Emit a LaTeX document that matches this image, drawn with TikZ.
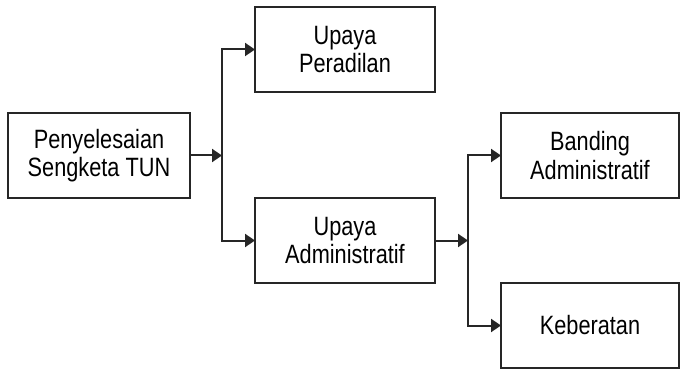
\documentclass[tikz,border=0pt]{standalone}
\usepackage{fontspec}
\setmainfont{Liberation Sans}[FakeStretch=0.82]
\usetikzlibrary{arrows.meta}
\begin{document}
\begin{tikzpicture}[x=1pt,y=1pt,
  box/.style={draw=black!85,line width=1.5pt,fill=white,align=center,
    minimum height=85pt,inner sep=0pt,outer sep=0pt,
    font=\fontsize{26.5}{28.3}\selectfont},
  conn/.style={draw=black!85,line width=2pt},
  arr/.style={conn,-{Triangle[length=10pt,width=13pt]}}]
\useasboundingbox[fill=white] (0,0) rectangle (680,370);
\node[box,minimum width=182pt] (b1) at (99,214.5) {Penyelesaian\\Sengketa TUN};
\node[box,minimum width=180pt] (b2) at (345,320.5) {Upaya\\Peradilan};
\node[box,minimum width=180pt] (b3) at (345,129.5) {Upaya\\Administratif};
\node[box,minimum width=178pt] (b4) at (590,214.5) {Banding\\Administratif};
\node[box,minimum width=178pt] (b5) at (590,44.5) {Keberatan};
\coordinate (j1) at (222,214.5);
\coordinate (j1t) at (j1 |- b2.west);
\coordinate (j1b) at (j1 |- b3.west);
\coordinate (j2) at (468,129.5);
\coordinate (j2t) at (j2 |- b4.west);
\coordinate (j2b) at (j2 |- b5.west);
\draw[conn,line cap=rect] (j1t) -- (j1b);
\draw[conn,line cap=rect] (j2t) -- (j2b);
\draw[arr] (b1.east) -- (j1);
\draw[arr] (j1t) -- (b2.west);
\draw[arr] (j1b) -- (b3.west);
\draw[arr] (b3.east) -- (j2);
\draw[arr] (j2t) -- (b4.west);
\draw[arr] (j2b) -- (b5.west);
\end{tikzpicture}
\end{document}
